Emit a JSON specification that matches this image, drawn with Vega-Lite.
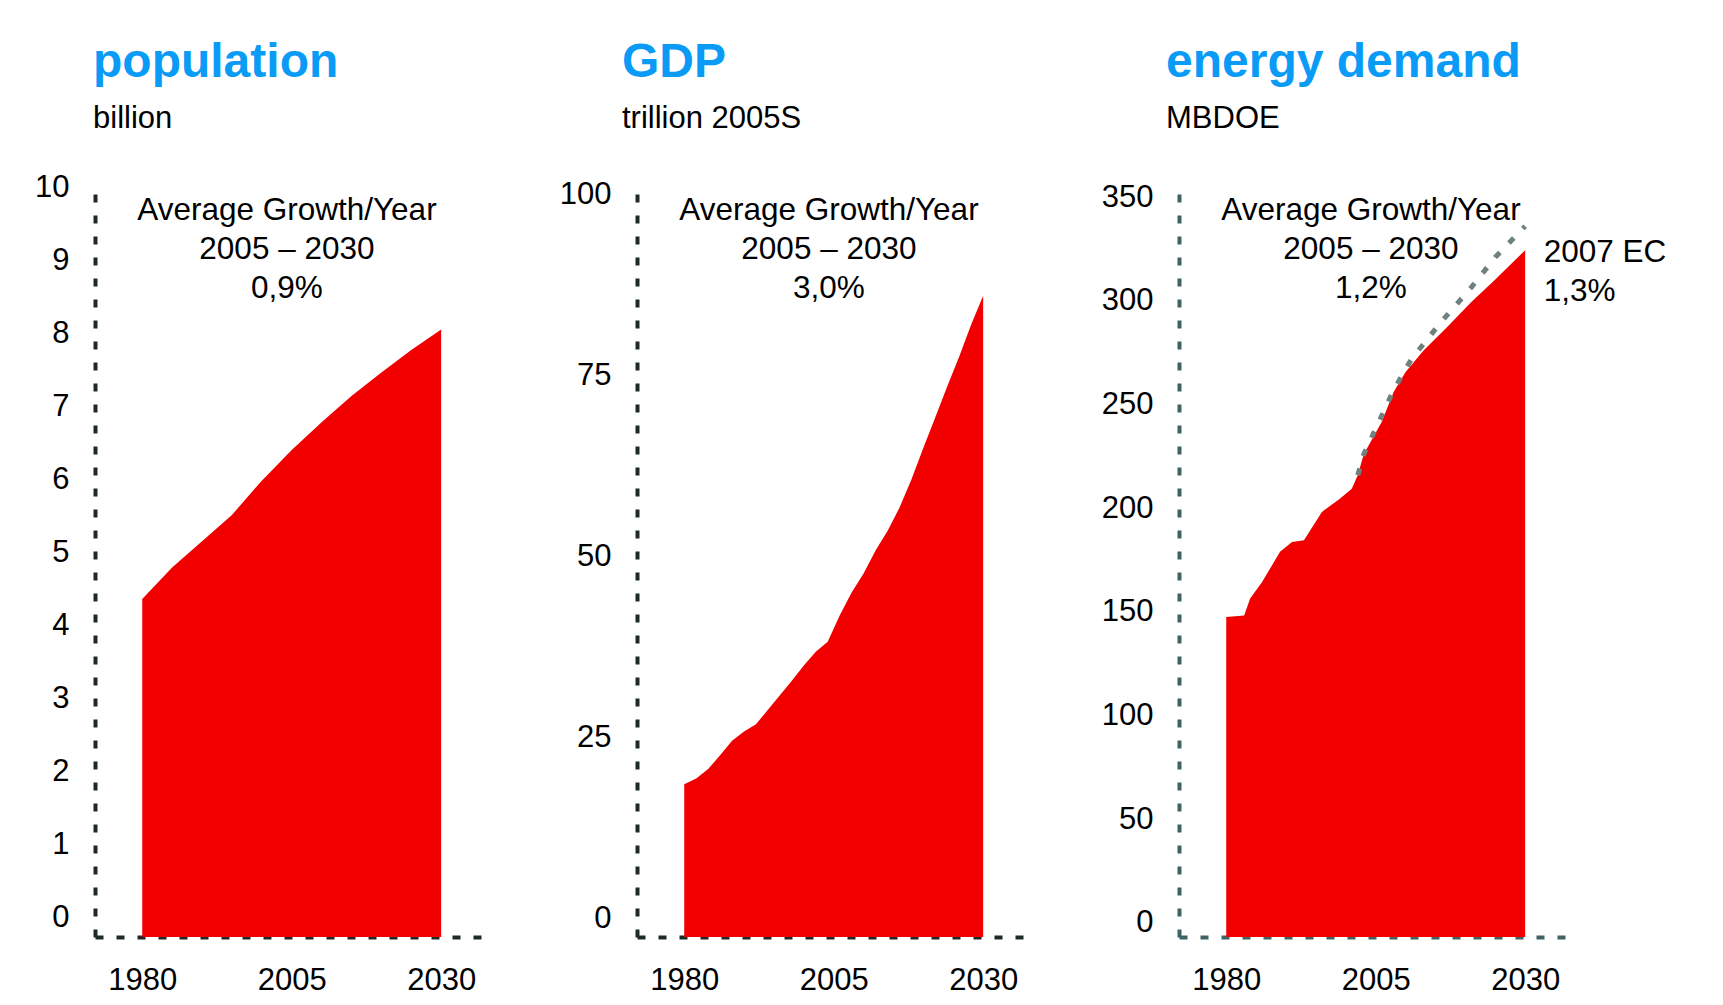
{
  "$schema": "https://vega.github.io/schema/vega-lite/v6.json",
  "background": "white",
  "padding": {"left": 34, "top": 38, "right": 5, "bottom": 5},
  "bounds": "flush",
  "spacing": 151,
  "datasets": {
    "pop": [
      {"year": 1980, "value": 4.36}, {"year": 1985, "value": 4.79}, {"year": 1990, "value": 5.15},
      {"year": 1995, "value": 5.51}, {"year": 2000, "value": 5.98}, {"year": 2005, "value": 6.40},
      {"year": 2010, "value": 6.78}, {"year": 2015, "value": 7.14}, {"year": 2020, "value": 7.46},
      {"year": 2025, "value": 7.77}, {"year": 2030, "value": 8.05}
    ],
    "gdp": [
      {"year": 1980, "value": 18.5}, {"year": 1982, "value": 19.3}, {"year": 1984, "value": 20.6},
      {"year": 1986, "value": 22.5}, {"year": 1988, "value": 24.5}, {"year": 1990, "value": 25.8},
      {"year": 1992, "value": 26.8}, {"year": 1994, "value": 28.8}, {"year": 1996, "value": 30.8},
      {"year": 1998, "value": 32.8}, {"year": 2000, "value": 34.9}, {"year": 2002, "value": 36.8},
      {"year": 2004, "value": 38.2}, {"year": 2006, "value": 41.8}, {"year": 2008, "value": 45.0},
      {"year": 2010, "value": 47.6}, {"year": 2012, "value": 50.8}, {"year": 2014, "value": 53.5},
      {"year": 2016, "value": 56.7}, {"year": 2018, "value": 60.6}, {"year": 2020, "value": 65.0},
      {"year": 2022, "value": 69.2}, {"year": 2024, "value": 73.5}, {"year": 2026, "value": 77.6},
      {"year": 2028, "value": 82.0}, {"year": 2030, "value": 86.0}
    ],
    "energy": [
      {"year": 1980, "value": 147.5}, {"year": 1983, "value": 148.3}, {"year": 1984, "value": 156.4},
      {"year": 1986, "value": 164.4}, {"year": 1989, "value": 179.0}, {"year": 1991, "value": 183.7},
      {"year": 1993, "value": 184.5}, {"year": 1996, "value": 198.2}, {"year": 1999, "value": 204.6},
      {"year": 2001, "value": 209.4}, {"year": 2002, "value": 215.9}, {"year": 2003, "value": 226.0},
      {"year": 2006, "value": 241.5}, {"year": 2008, "value": 256.0}, {"year": 2010, "value": 265.7},
      {"year": 2013, "value": 276.0}, {"year": 2017, "value": 287.5}, {"year": 2021, "value": 299.4},
      {"year": 2025, "value": 310.3}, {"year": 2030, "value": 324.4}
    ],
    "ec": [
      {"year": 2002, "value": 215.9}, {"year": 2003, "value": 226.0}, {"year": 2005, "value": 238.3},
      {"year": 2008, "value": 257.0}, {"year": 2011, "value": 272.0}, {"year": 2016, "value": 290.0},
      {"year": 2021, "value": 306.5}, {"year": 2025, "value": 321.0}, {"year": 2030, "value": 336.0}
    ]
  },
  "hconcat": [
    {
      "width": 391, "height": 755,
      "title": {"text": "population", "subtitle": "billion", "dx": -2, "offset": 37.5},
      "layer": [
        {
          "data": {"name": "pop"},
          "mark": {"type": "area", "color": "#F20000"},
          "encoding": {
            "x": {"field": "year", "type": "quantitative", "scale": {"domain": [1972.1, 2037.5], "nice": false, "zero": false},
                  "axis": {"values": [1980, 2005, 2030], "format": "d"}},
            "y": {"field": "value", "type": "quantitative", "scale": {"domain": [-0.27, 10.07], "nice": false, "zero": false},
                  "axis": {"values": [0, 1, 2, 3, 4, 5, 6, 7, 8, 9, 10], "format": "d"}},
            "y2": {"datum": -0.27}
          }
        },
        {
          "data": {"values": [{}]},
          "mark": {"type": "text", "text": ["Average Growth/Year", "2005 – 2030", "0,9%"], "align": "center", "baseline": "alphabetic", "fontSize": 31.5, "lineHeight": 39, "font": "Liberation Sans", "color": "#000000"},
          "encoding": {"x": {"datum": 2004.2}, "y": {"datum": 9.55}}
        }
      ]
    },
    {
      "width": 391, "height": 755,
      "title": {"text": "GDP", "subtitle": "trillion 2005S", "dx": -15, "offset": 44.8},
      "layer": [
        {
          "data": {"name": "gdp"},
          "mark": {"type": "area", "color": "#F20000"},
          "encoding": {
            "x": {"field": "year", "type": "quantitative", "scale": {"domain": [1972.1, 2037.5], "nice": false, "zero": false},
                  "axis": {"values": [1980, 2005, 2030], "format": "d"}},
            "y": {"field": "value", "type": "quantitative", "scale": {"domain": [-2.6, 101.7], "nice": false, "zero": false},
                  "axis": {"values": [0, 25, 50, 75, 100], "format": "d"}},
            "y2": {"datum": -2.6}
          }
        },
        {
          "data": {"values": [{}]},
          "mark": {"type": "text", "text": ["Average Growth/Year", "2005 – 2030", "3,0%"], "align": "center", "baseline": "alphabetic", "fontSize": 31.5, "lineHeight": 39, "font": "Liberation Sans", "color": "#000000"},
          "encoding": {"x": {"datum": 2004.2}, "y": {"datum": 96.45}}
        }
      ]
    },
    {
      "width": 391, "height": 755,
      "title": {"text": "energy demand", "subtitle": "MBDOE", "dx": -13, "offset": 47.5},
      "layer": [
        {
          "data": {"name": "energy"},
          "mark": {"type": "area", "color": "#F20000"},
          "encoding": {
            "x": {"field": "year", "type": "quantitative", "scale": {"domain": [1972.1, 2037.5], "nice": false, "zero": false},
                  "axis": {"values": [1980, 2005, 2030], "format": "d", "domainColor": "#3f6363"}},
            "y": {"field": "value", "type": "quantitative", "scale": {"domain": [-6.8, 357.3], "nice": false, "zero": false},
                  "axis": {"values": [0, 50, 100, 150, 200, 250, 300, 350], "format": "d", "domainColor": "#3f6363"}},
            "y2": {"datum": -6.8}
          }
        },
        {
          "data": {"name": "ec"},
          "mark": {"type": "line", "color": "#6f8080", "strokeWidth": 5, "strokeDash": [7, 13]},
          "encoding": {
            "x": {"field": "year", "type": "quantitative"},
            "y": {"field": "value", "type": "quantitative"}
          }
        },
        {
          "data": {"values": [{}]},
          "mark": {"type": "text", "text": ["Average Growth/Year", "2005 – 2030", "1,2%"], "align": "center", "baseline": "alphabetic", "fontSize": 31.5, "lineHeight": 39, "font": "Liberation Sans", "color": "#000000"},
          "encoding": {"x": {"datum": 2004.2}, "y": {"datum": 339}}
        },
        {
          "data": {"values": [{}]},
          "mark": {"type": "text", "text": ["2007 EC", "1,3%"], "align": "left", "baseline": "alphabetic", "fontSize": 31.5, "lineHeight": 39, "font": "Liberation Sans", "color": "#000000"},
          "encoding": {"x": {"datum": 2033.1}, "y": {"datum": 318.7}}
        }
      ]
    }
  ],
  "config": {
    "view": {"stroke": null},
    "font": "Liberation Sans",
    "title": {"anchor": "start", "frame": "group", "fontSize": 48, "font": "Liberation Sans", "fontWeight": "bold", "color": "#0A9BF7", "subtitleFont": "Liberation Sans", "subtitleFontSize": 31, "subtitleColor": "#000000", "subtitlePadding": 17},
    "axis": {"title": null, "grid": false, "ticks": false, "domainDash": [8, 13], "domainWidth": 4, "domainColor": "#1e2a26", "labelFont": "Liberation Sans", "labelFontSize": 31, "labelColor": "#000000", "labelFlush": false, "labelOverlap": false, "labelBound": false},
    "axisX": {"labelPadding": 28},
    "axisY": {"labelPadding": 26}
  }
}
